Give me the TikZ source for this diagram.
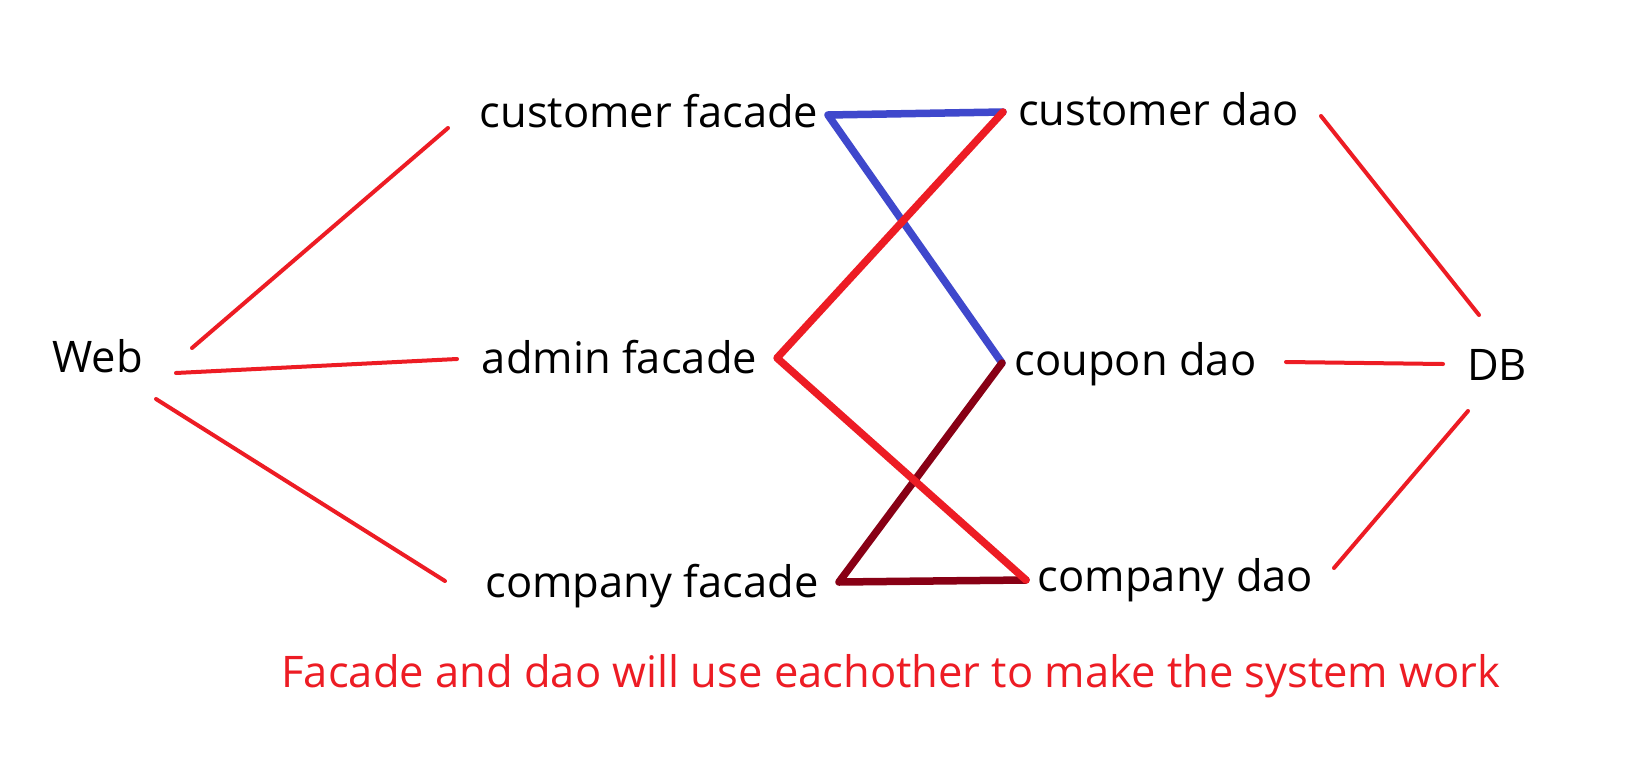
\documentclass[tikz,border=0pt]{standalone}
\usepackage{fontspec}
\setmainfont{Open Sans}
\begin{document}
\begin{tikzpicture}[x=1pt,y=-1pt,
  lbl/.style={anchor=base,inner sep=0pt,font=\fontsize{43.5}{50}\selectfont},
  thin/.style={draw=pred,line width=4pt,line cap=round},
  thick/.style={line width=7.5pt,line cap=round,line join=round}]
\definecolor{pred}{HTML}{ED1C24}
\definecolor{pblue}{HTML}{3F48CC}
\definecolor{pdark}{HTML}{880015}
\useasboundingbox[fill=white] (0,0) rectangle (1625,763);
% labels
\node[lbl] (web) at (97.5,372) {Web};
\node[lbl] (cf) at (649,127) {customer facade};
\node[lbl] (af) at (619.5,373) {admin facade};
\node[lbl] (pf) at (652,597) {company facade};
\node[lbl] (cd) at (1158.5,125) {customer dao};
\node[lbl] (qd) at (1135.5,375) {coupon dao};
\node[lbl] (pd) at (1175.5,591) {company dao};
\node[lbl] (db) at (1497,380) {DB};
\node[lbl,text=pred] (note) at (891,687) {Facade and dao will use eachother to make the system work};
% connector end points
\coordinate (w1) at (192,348);  \coordinate (cfL) at (448,128);
\coordinate (w2) at (176,373);  \coordinate (afL) at (457,359);
\coordinate (w3) at (156,399);  \coordinate (pfL) at (445,581);
\coordinate (cdR) at (1321,116); \coordinate (db1) at (1479,315);
\coordinate (qdR) at (1286,362); \coordinate (db2) at (1443,364);
\coordinate (pdR) at (1334,568); \coordinate (db3) at (1468,411);
\coordinate (cfR) at (828,115);  \coordinate (cdL) at (1003,112);
\coordinate (afR) at (777,358);  \coordinate (qdL) at (1002,363);
\coordinate (pfR) at (839,582);  \coordinate (pdL) at (1026,580);
% thin red connectors
\draw[thin] (w1) -- (cfL);
\draw[thin] (w2) -- (afL);
\draw[thin] (w3) -- (pfL);
\draw[thin] (cdR) -- (db1);
\draw[thin] (qdR) -- (db2);
\draw[thin] (pdR) -- (db3);
% thick connectors
\draw[thick,pblue] (cdL) -- (cfR) -- (qdL);
\draw[thick,pdark] (qdL) -- (pfR) -- (pdL);
\draw[thick,pred] (cdL) -- (afR) -- (pdL);
\end{tikzpicture}
\end{document}
